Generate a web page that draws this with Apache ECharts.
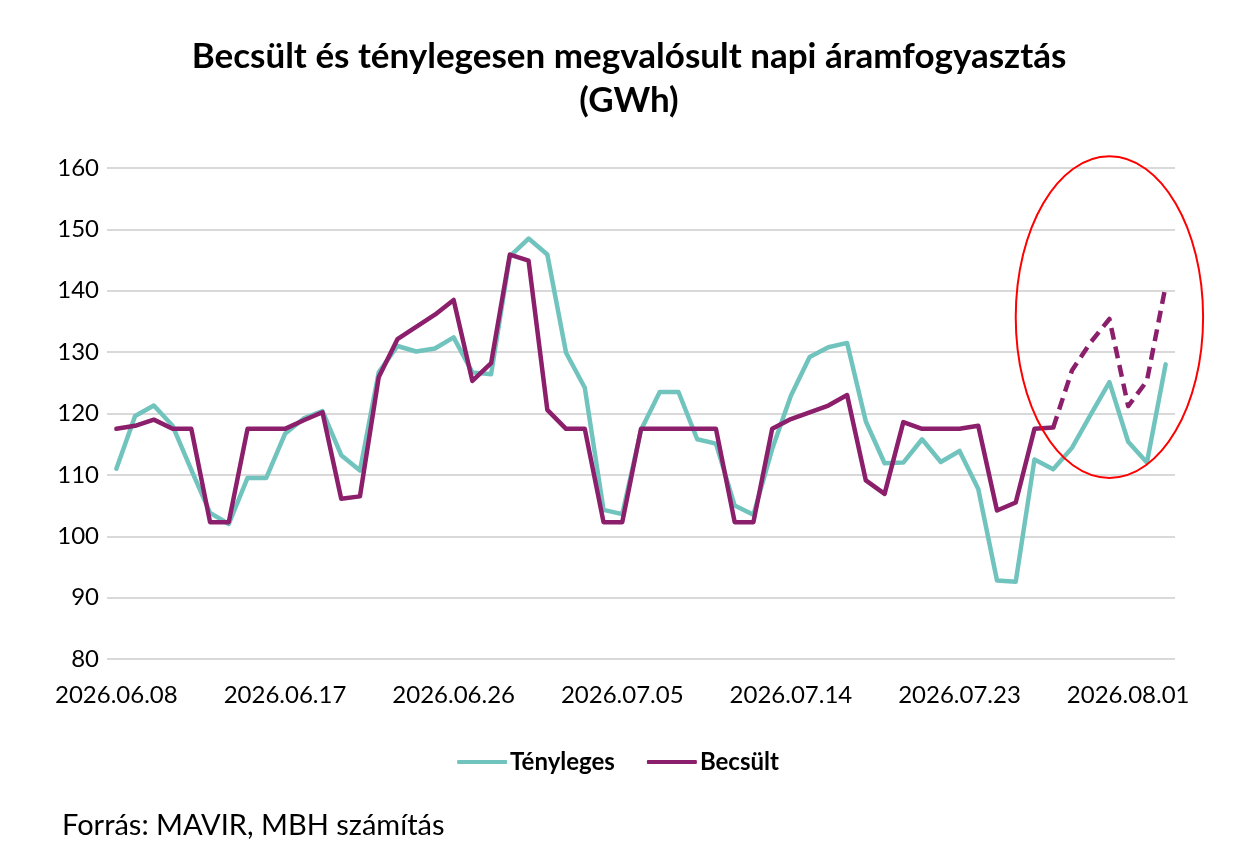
<!DOCTYPE html>
<html>
<head>
<meta charset="utf-8">
<script src="https://cdn.jsdelivr.net/npm/echarts@6/dist/echarts.min.js"></script>
<style>
  html, body { margin: 0; padding: 0; background: #ffffff; }
  #chart { width: 1236px; height: 844px; }
</style>
</head>
<body>
<div id="chart"></div>
<script>
// ---- Data ----
const categories = [
  '2026.06.08','2026.06.09','2026.06.10','2026.06.11','2026.06.12','2026.06.13','2026.06.14','2026.06.15','2026.06.16',
  '2026.06.17','2026.06.18','2026.06.19','2026.06.20','2026.06.21','2026.06.22','2026.06.23','2026.06.24','2026.06.25',
  '2026.06.26','2026.06.27','2026.06.28','2026.06.29','2026.06.30','2026.07.01','2026.07.02','2026.07.03','2026.07.04',
  '2026.07.05','2026.07.06','2026.07.07','2026.07.08','2026.07.09','2026.07.10','2026.07.11','2026.07.12','2026.07.13',
  '2026.07.14','2026.07.15','2026.07.16','2026.07.17','2026.07.18','2026.07.19','2026.07.20','2026.07.21','2026.07.22',
  '2026.07.23','2026.07.24','2026.07.25','2026.07.26','2026.07.27','2026.07.28','2026.07.29','2026.07.30','2026.07.31',
  '2026.08.01','2026.08.02','2026.08.03'
];

const tenyleges = [
  111.0, 119.6, 121.3, 118.0, 110.8, 103.8, 102.0, 109.5, 109.5,
  116.7, 119.2, 120.4, 113.2, 110.7, 126.7, 131.0, 130.1, 130.6,
  132.4, 126.7, 126.4, 145.6, 148.5, 145.9, 129.9, 124.2, 104.3,
  103.6, 117.3, 123.5, 123.5, 115.8, 115.1, 105.0, 103.5, 114.2,
  122.9, 129.2, 130.8, 131.5, 118.7, 111.9, 112.0, 115.8, 112.1,
  113.9, 107.7, 92.8, 92.6, 112.5, 110.9, 114.4, 119.8, 125.1,
  115.4, 112.0, 128.0
];

const becsult = [
  117.5, 118.0, 119.0, 117.5, 117.5, 102.3, 102.3, 117.5, 117.5,
  117.5, 118.9, 120.2, 106.1, 106.5, 125.9, 132.1, 134.1, 136.1,
  138.5, 125.3, 128.2, 145.9, 144.9, 120.6, 117.5, 117.5, 102.3,
  102.3, 117.5, 117.5, 117.5, 117.5, 117.5, 102.3, 102.3, 117.5,
  119.1, 120.2, 121.3, 123.0, 109.1, 106.9, 118.6, 117.5, 117.5,
  117.5, 118.0, 104.2, 105.5, 117.5, 117.7, 127.0, 131.6, 135.4,
  121.2, 125.3, 140.8
];

// index from which the estimate is drawn dashed
const dashedFromIndex = 50;

const yTicks = [80, 90, 100, 110, 120, 130, 140, 150, 160];

// annotation ellipse in data space (category index, value)
const ellipseCenter = [53.1, 135.7];
const ellipseHalfSpan = [4.55, 26.2];

// ---- Derived ----
const becsultSolid = becsult.map((v, i) => (i <= dashedFromIndex ? v : null));
const becsultDashed = becsult.map((v, i) => (i >= dashedFromIndex ? v : null));

const TEAL = '#71C4BD';
const PURPLE = '#8C1F6B';
const FONT = 'Lato, "Open Sans", sans-serif';

const chart = echarts.init(document.getElementById('chart'), null, { renderer: 'canvas' });

chart.setOption({
  backgroundColor: '#ffffff',
  animation: false,
  title: {
    text: 'Becsült és ténylegesen megvalósult napi áramfogyasztás\n(GWh)',
    left: 624,
    textAlign: 'center',
    top: 30,
    textStyle: {
      fontFamily: FONT,
      fontWeight: 'bold',
      fontSize: 35,
      lineHeight: 44,
      color: '#000000'
    }
  },
  legend: {
    left: 'center',
    top: 745,
    itemGap: 32,
    itemWidth: 50,
    itemHeight: 4,
    textStyle: {
      fontFamily: FONT,
      fontWeight: 'bold',
      fontSize: 24,
      color: '#000000',
      padding: [0, 0, 0, -2]
    },
    data: [
      { name: 'Tényleges', icon: 'roundRect', itemStyle: { color: TEAL } },
      { name: 'Becsült', icon: 'roundRect', itemStyle: { color: PURPLE } }
    ]
  },
  grid: {
    left: 107,
    right: 61,
    top: 168,
    bottom: 185,
    containLabel: false
  },
  xAxis: {
    type: 'category',
    data: categories,
    boundaryGap: true,
    axisLine: { show: false },
    axisTick: { show: false },
    splitLine: { show: false },
    axisLabel: {
      interval: 8,
      margin: 24,
      fontFamily: FONT,
      fontSize: 24,
      color: '#000000'
    }
  },
  yAxis: {
    type: 'value',
    min: yTicks[0],
    max: yTicks[yTicks.length - 1],
    interval: yTicks[1] - yTicks[0],
    axisLine: { show: false },
    axisTick: { show: false },
    axisLabel: {
      margin: 8,
      fontFamily: FONT,
      fontSize: 24,
      color: '#000000'
    },
    splitLine: { lineStyle: { color: '#D9D9D9', width: 2 } }
  },
  series: [
    {
      name: 'Tényleges',
      type: 'line',
      data: tenyleges,
      symbol: 'none',
      z: 2,
      lineStyle: { color: TEAL, width: 4.5, join: 'round', cap: 'round' },
      itemStyle: { color: TEAL }
    },
    {
      name: 'Becsült',
      type: 'line',
      data: becsultSolid,
      symbol: 'none',
      z: 3,
      lineStyle: { color: PURPLE, width: 4.5, join: 'round', cap: 'round' },
      itemStyle: { color: PURPLE }
    },
    {
      name: 'Becsült (előrejelzés)',
      type: 'line',
      data: becsultDashed,
      symbol: 'none',
      z: 3,
      lineStyle: { color: PURPLE, width: 4.5, type: [12, 7], join: 'round', cap: 'butt' },
      itemStyle: { color: PURPLE }
    }
  ],
  graphic: [
    {
      id: 'source',
      type: 'text',
      left: 62,
      top: 811,
      style: {
        text: 'Forrás: MAVIR, MBH számítás',
        fontFamily: FONT,
        fontSize: 29,
        fill: '#000000'
      }
    }
  ]
});

// place the annotation ellipse through the axes
const c = chart.convertToPixel({ gridIndex: 0 }, ellipseCenter);
const e = chart.convertToPixel({ gridIndex: 0 }, [ellipseCenter[0] + ellipseHalfSpan[0], ellipseCenter[1] + ellipseHalfSpan[1]]);
chart.setOption({
  graphic: [
    {
      id: 'ring',
      type: 'ellipse',
      z: 100,
      shape: { cx: c[0], cy: c[1], rx: Math.abs(e[0] - c[0]), ry: Math.abs(c[1] - e[1]) },
      style: { fill: 'none', stroke: '#FF0000', lineWidth: 2 }
    }
  ]
});
</script>
</body>
</html>
